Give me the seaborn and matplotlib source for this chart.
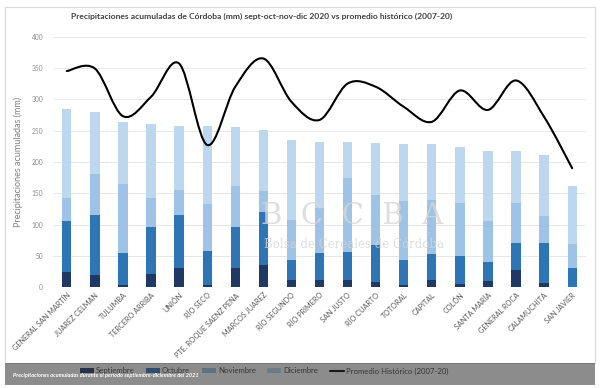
import numpy as np
import pandas as pd
import seaborn as sns
import matplotlib.pyplot as plt
from matplotlib.path import Path
from matplotlib.patches import PathPatch, Rectangle, Patch
from matplotlib.lines import Line2D

# datos (mm)
departamentos = ["GENERAL SAN MARTÍN", "JUAREZ CELMAN", "TULUMBA", "TERCERO ARRIBA",
                 "UNIÓN", "RÍO SECO", "PTE. ROQUE SAENZ PEÑA", "MARCOS JUAREZ",
                 "RÍO SEGUNDO", "RÍO PRIMERO", "SAN JUSTO", "RÍO CUARTO", "TOTORAL",
                 "CAPITAL", "COLÓN", "SANTA MARÍA", "GENERAL ROCA", "CALAMUCHITA",
                 "SAN JAVIER"]
septiembre = [25, 19, 4, 21, 31, 4, 31, 36, 12, 11, 12, 9, 4, 11, 5, 10, 28, 7, 1]
octubre = [81, 96, 51, 76, 84, 54, 66, 84, 31, 43, 45, 58, 40, 42, 45, 31, 43, 63, 30]
noviembre = [37, 66, 110, 46, 40, 75, 64, 34, 64, 72, 118, 80, 93, 87, 84, 65, 63, 44, 38]
diciembre = [141, 99, 99, 117, 103, 125, 94, 97, 128, 106, 57, 84, 92, 88, 90, 111, 83, 97, 93]
promedio = [345, 349, 273, 304, 357, 227, 320, 365, 296, 267, 325, 320, 288, 264,
            314, 283, 330, 272, 190]
yticks = [0, 50, 100, 150, 200, 250, 300, 350, 400]

meses = ["Septiembre", "Octubre", "Noviembre", "Diciembre"]
colores = ["#203864", "#2E75B6", "#9DC3E6", "#BDD7EE"]

sns.set_theme(style="white")
plt.rcParams['font.family'] = ['Lato', 'DejaVu Sans']

df = pd.DataFrame({"dep": departamentos, "Septiembre": septiembre, "Octubre": octubre,
                   "Noviembre": noviembre, "Diciembre": diciembre})
acum = df[meses].cumsum(axis=1)
acum["dep"] = df["dep"]

fig = plt.figure(figsize=(6, 3.88), dpi=100)
ax = fig.add_axes([0.088, 0.2595, 0.889, 0.6462])

# barras apiladas: se dibujan los acumulados de mayor a menor
for mes, col in reversed(list(zip(meses, colores))):
    sns.barplot(data=acum, x="dep", y=mes, order=departamentos, color=col,
                width=0.33, saturation=1, errorbar=None, linewidth=0, ax=ax)

# linea suavizada (estilo Excel) del promedio historico
pts = np.column_stack([np.arange(len(promedio)), promedio]).astype(float)
ext = np.vstack([pts[0], pts, pts[-1]])
verts = [tuple(pts[0])]
codes = [Path.MOVETO]
for i in range(len(pts) - 1):
    p0, p1, p2, p3 = ext[i], ext[i + 1], ext[i + 2], ext[i + 3]
    c1 = p1 + (p2 - p0) / 6
    c2 = p2 - (p3 - p1) / 6
    verts += [tuple(c1), tuple(c2), tuple(p2)]
    codes += [Path.CURVE4] * 3
ax.add_patch(PathPatch(Path(verts, codes), fill=False, edgecolor="black", lw=1.5,
                       zorder=5, capstyle="round"))

ax.set_ylim(0, 400)
ax.set_xlim(-0.5, len(departamentos) - 0.5)
ax.set_yticks(yticks)
ax.yaxis.grid(True, color="#e3e3e3", lw=0.6)
ax.set_axisbelow(True)
for s in ax.spines.values():
    s.set_visible(False)
ax.tick_params(axis="y", labelsize=4.8, labelcolor="#8c8c8c", length=0, pad=7)
ax.tick_params(axis="x", labelsize=5.2, labelcolor="#595959", length=0, pad=3)
plt.setp(ax.get_xticklabels(), rotation=45, ha="right", rotation_mode="anchor")
ax.set_xlabel("")
ax.set_ylabel("Precipitaciones acumuladas (mm)", fontsize=6.5, color="#7f7f7f", labelpad=6)

fig.text(262 / 600, 1 - 16 / 388,
         "Precipitaciones acumuladas de Córdoba (mm) sept-oct-nov-dic 2020 vs promedio histórico (2007-20)",
         ha="center", va="center", fontsize=6.1, color="#404040", fontweight="bold")

# marca de agua
ax.text(352 / 600, 1 - 216 / 388, "B  C  C  B  A", transform=fig.transFigure, ha="center",
        va="center", fontsize=21, color="#d6d6d6", alpha=0.8, family="DejaVu Serif", zorder=6)
ax.text(354 / 600, 1 - 244 / 388, "Bolsa de Cereales de Córdoba", transform=fig.transFigure,
        ha="center", va="center", fontsize=8.5, color="#d6d6d6", alpha=0.8,
        family="DejaVu Serif", zorder=6)

# marco y franja inferior
fig.patches.append(Rectangle((5 / 600, 1 - 363 / 388), 590 / 600, 356 / 388,
                             transform=fig.transFigure, fill=False, edgecolor="#d9d9d9", lw=0.8))

handles = [Patch(facecolor=c, edgecolor="none") for c in colores]
handles.append(Line2D([0], [0], color="black", lw=1.5))
labels = meses + ["Promedio Histórico (2007-20)"]
leg = fig.legend(handles, labels, loc="center", bbox_to_anchor=(264 / 600, 1 - 371 / 388),
                 ncol=5, frameon=False, fontsize=5.6, handlelength=1.8, handleheight=0.55,
                 columnspacing=1.5, handletextpad=0.25, labelcolor="#404040")
leg.set_zorder(5)

fig.patches.append(Rectangle((5 / 600, 1 - 385 / 388), 590 / 600, 22 / 388,
                             transform=fig.transFigure, facecolor="#2e2e2e", alpha=0.55,
                             edgecolor="none", zorder=10))
fig.text(13 / 600, 1 - 376 / 388,
         "Precipitaciones acumuladas durante el período septiembre-diciembre del 2021",
         ha="left", va="center", fontsize=4.1, color="white", fontweight="bold",
         fontstyle="italic", zorder=11)

fig.savefig("out.png", dpi=100)
